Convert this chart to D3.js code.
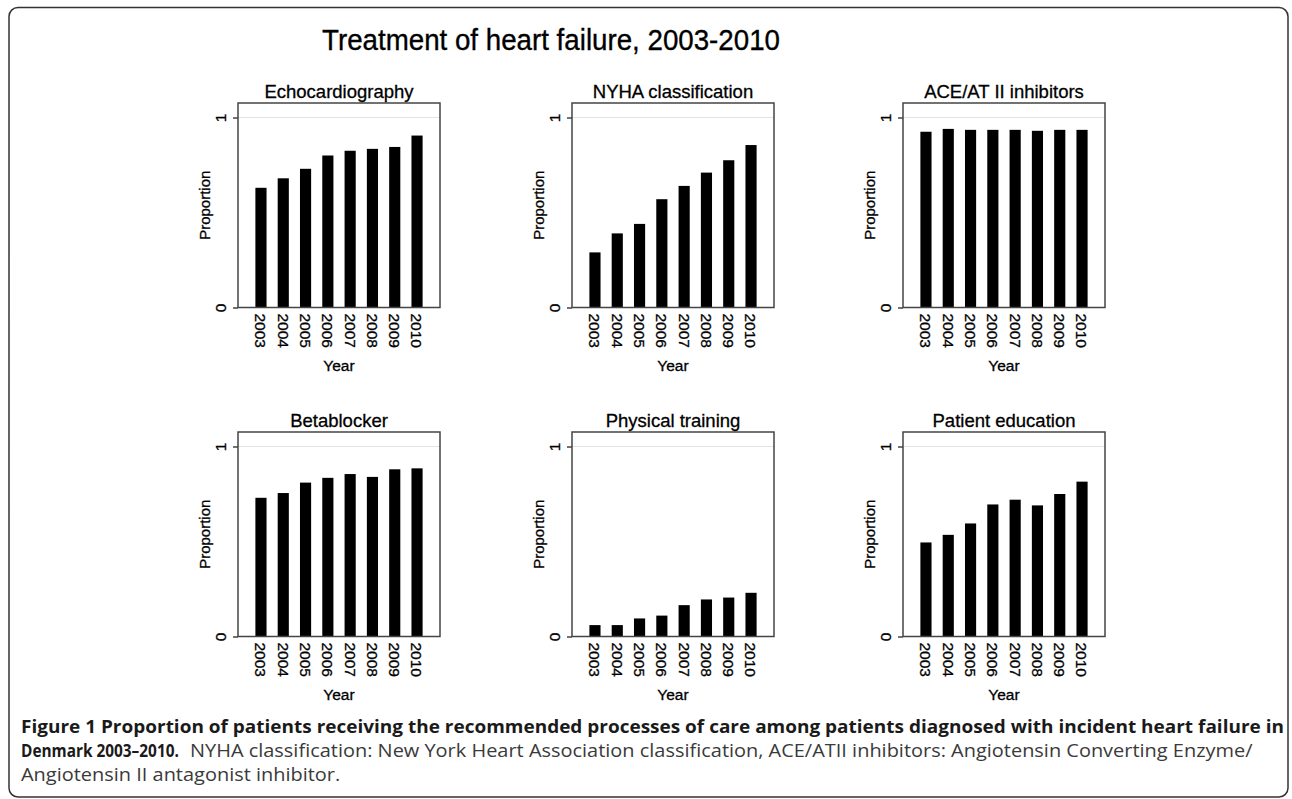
<!DOCTYPE html>
<html>
<head>
<meta charset="utf-8">
<script src="https://cdn.jsdelivr.net/npm/d3@7"></script>
<style>
  html, body { margin: 0; padding: 0; background: #fff; }
  svg { display: block; }
</style>
</head>
<body>
<svg id="chart" width="1292" height="799"></svg>
<script>
// ---------- data ----------
const years = ["2003", "2004", "2005", "2006", "2007", "2008", "2009", "2010"];
const panelTitles = ["Echocardiography", "NYHA classification", "ACE/AT II inhibitors",
                     "Betablocker", "Physical training", "Patient education"];
const echocardiography = [0.63, 0.68, 0.73, 0.80, 0.825, 0.835, 0.845, 0.905];
const nyhaClassification = [0.29, 0.39, 0.44, 0.57, 0.64, 0.71, 0.775, 0.855];
const aceInhibitors = [0.925, 0.94, 0.935, 0.935, 0.935, 0.93, 0.935, 0.935];
const betablocker = [0.73, 0.755, 0.81, 0.835, 0.855, 0.84, 0.88, 0.885];
const physicalTraining = [0.06, 0.06, 0.095, 0.11, 0.165, 0.195, 0.205, 0.23];
const patientEducation = [0.495, 0.535, 0.595, 0.695, 0.72, 0.69, 0.75, 0.815];
const yTickValues = [0, 1];
const yAxisTitle = "Proportion";
const xAxisTitle = "Year";
const mainTitle = "Treatment of heart failure, 2003-2010";
const captionBold1 = "Figure 1 Proportion of patients receiving the recommended processes of care among patients diagnosed with incident heart failure in";
const captionBold2 = "Denmark 2003\u20132010.";
const captionNormal2 = "NYHA classification: New York Heart Association classification, ACE/ATII inhibitors: Angiotensin Converting Enzyme/";
const captionNormal3 = "Angiotensin II antagonist inhibitor.";

const seriesList = [echocardiography, nyhaClassification, aceInhibitors,
                    betablocker, physicalTraining, patientEducation];

// ---------- layout ----------
const svg = d3.select("#chart");
const chartFont = "'Liberation Sans', Arial, sans-serif";
const capFont = "'Open Sans', 'Noto Sans', sans-serif";

// outer frame
svg.append("rect")
  .attr("x", 9).attr("y", 7.5)
  .attr("width", 1279).attr("height", 789.5)
  .attr("rx", 9).attr("ry", 9)
  .attr("fill", "none").attr("stroke", "#333").attr("stroke-width", 1.5);

// main title
svg.append("text")
  .attr("x", 551).attr("y", 50)
  .attr("text-anchor", "middle")
  .attr("font-family", chartFont)
  .attr("font-size", 29)
  .attr("fill", "#000").attr("stroke", "#000").attr("stroke-width", 0.35)
  .attr("textLength", 458).attr("lengthAdjust", "spacingAndGlyphs")
  .text(mainTitle);

const colX = [238, 572, 903];
const rowY = [103, 432];
const pw = 202, ph = 204.5;
const unitPx = 190;

function heavy(sel) {
  return sel.attr("fill", "#000").attr("stroke", "#000").attr("stroke-width", 0.3);
}

seriesList.forEach((values, i) => {
  const col = i % 3, row = Math.floor(i / 3);
  const g = svg.append("g").attr("transform", `translate(${colX[col]},${rowY[row]})`);

  const x = d3.scaleBand().domain(years).range([0, pw]).paddingInner(0.5).paddingOuter(0.78);
  const y = d3.scaleLinear().domain([0, 1]).range([ph, ph - unitPx]);

  // gridline at 1
  g.append("line")
    .attr("x1", 0).attr("x2", pw)
    .attr("y1", y(1)).attr("y2", y(1))
    .attr("stroke", "#e2e2e2").attr("stroke-width", 1.2);

  // bars
  g.selectAll("rect.bar").data(values).join("rect")
    .attr("class", "bar")
    .attr("x", (d, j) => x(years[j]))
    .attr("width", x.bandwidth())
    .attr("y", d => y(d))
    .attr("height", d => y(0) - y(d))
    .attr("fill", "#000");

  // plot box
  g.append("rect")
    .attr("x", 0).attr("y", 0).attr("width", pw).attr("height", ph)
    .attr("fill", "none").attr("stroke", "#444").attr("stroke-width", 1.5);

  // y axis
  const yAxis = g.append("g").call(d3.axisLeft(y).tickValues(yTickValues).tickSize(5).tickFormat(d3.format("d")));
  yAxis.select(".domain").remove();
  yAxis.selectAll(".tick line").attr("stroke", "#444").attr("stroke-width", 1.5);
  heavy(yAxis.selectAll(".tick text"))
    .attr("font-family", chartFont).attr("font-size", 15.5)
    .attr("x", null).attr("dy", null)
    .attr("text-anchor", "middle")
    .attr("transform", "translate(-18,0) rotate(-90)")
    .attr("dy", "0.36em")
    .attr("y", 0);

  // x axis (rotated year labels)
  const xAxis = g.append("g").attr("transform", `translate(0,${ph})`)
    .call(d3.axisBottom(x).tickSize(0));
  xAxis.select(".domain").remove();
  heavy(xAxis.selectAll(".tick text"))
    .attr("font-family", chartFont).attr("font-size", 15.5)
    .attr("y", null).attr("dy", null)
    .attr("text-anchor", "start")
    .attr("transform", "translate(0,6) rotate(90)")
    .attr("x", 0).attr("y", 0)
    .attr("dy", "0.36em");

  // panel title
  heavy(g.append("text"))
    .attr("x", pw / 2).attr("y", -5)
    .attr("text-anchor", "middle")
    .attr("font-family", chartFont).attr("font-size", 18.5)
    .text(panelTitles[i]);

  // y axis title
  heavy(g.append("text"))
    .attr("transform", `translate(-33,${ph / 2}) rotate(-90)`)
    .attr("text-anchor", "middle")
    .attr("dy", "0.36em")
    .attr("font-family", chartFont).attr("font-size", 15)
    .text(yAxisTitle);

  // x axis title
  heavy(g.append("text"))
    .attr("x", pw / 2).attr("y", ph + 63)
    .attr("text-anchor", "middle")
    .attr("font-family", chartFont).attr("font-size", 15.5)
    .text(xAxisTitle);
});

// ---------- caption (horizontally scaled to fit measured widths) ----------
const capSize = 18.5;
function capLine(str, x0, y0, weight, color, width) {
  const t = svg.append("text")
    .attr("x", 0).attr("y", 0)
    .attr("font-family", capFont).attr("font-weight", weight)
    .attr("font-size", capSize).attr("fill", color)
    .text(str);
  const nat = t.node().getComputedTextLength();
  const sx = width == null ? 1 : width / nat;
  t.attr("transform", `translate(${x0},${y0}) scale(${sx},1)`);
  return { nat, sx };
}
capLine(captionBold1, 21, 733, 700, "#1a1a1a", 1264);
capLine(captionBold2, 21, 757, 700, "#1a1a1a", 158);
const n2 = capLine(captionNormal2, 190, 757, 400, "#3a3a3a", 1063);
capLine(captionNormal3, 21, 781, 400, "#3a3a3a", null);
// line 3 uses the same horizontal scale as line 2
svg.selectAll("text").filter(function () { return d3.select(this).text() === captionNormal3; })
  .attr("transform", `translate(21,781) scale(${n2.sx},1)`);
</script>
</body>
</html>
